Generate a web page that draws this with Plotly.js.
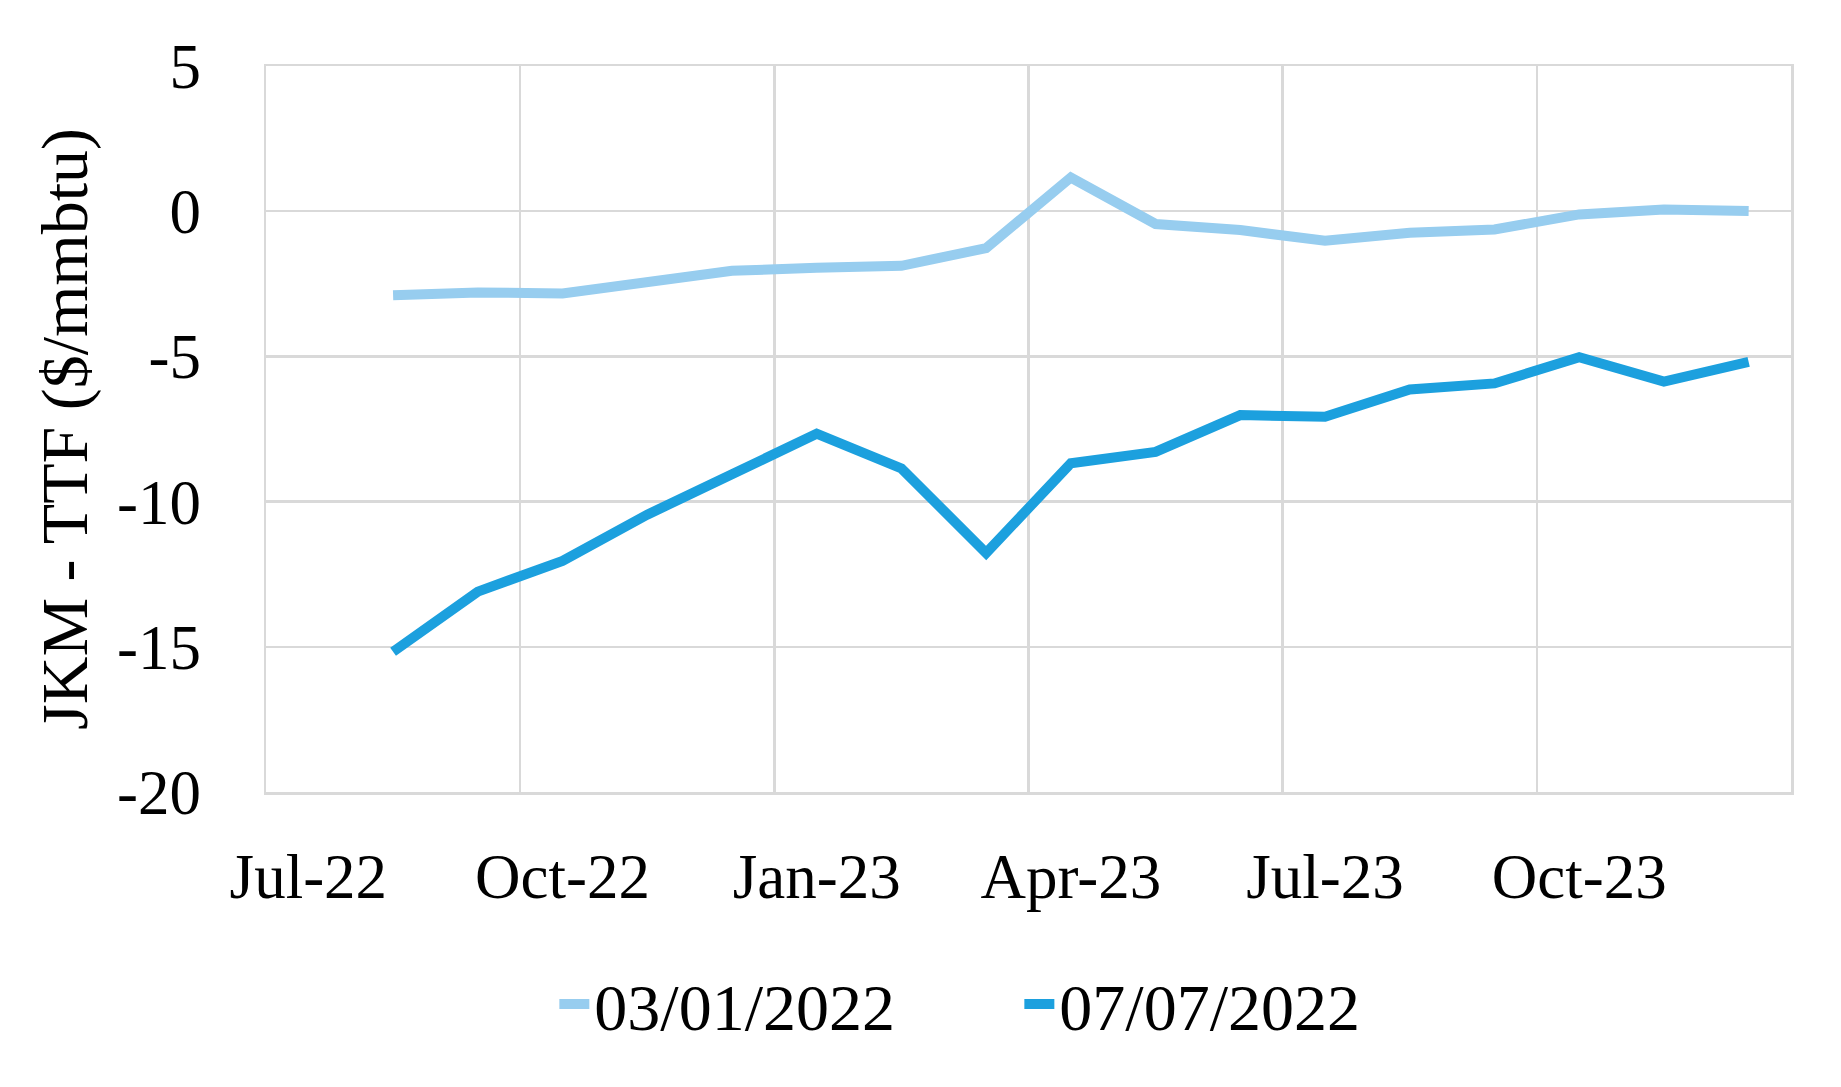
<!DOCTYPE html>
<html>
<head>
<meta charset="utf-8">
<script src="https://cdn.plot.ly/plotly-3.0.1.min.js"></script>
<style>html,body{margin:0;padding:0;background:#fff;}#chart{width:1841px;height:1087px;}</style>
</head>
<body>
<div id="chart"></div>
<script>
// Axis months (monthly slots shown on the date axis)
const axisMonths = ['Jul-22','Aug-22','Sep-22','Oct-22','Nov-22','Dec-22','Jan-23','Feb-23','Mar-23',
                    'Apr-23','May-23','Jun-23','Jul-23','Aug-23','Sep-23','Oct-23','Nov-23','Dec-23'];
const tickMonths = ['Jul-22','Oct-22','Jan-23','Apr-23','Jul-23','Oct-23'];
const yTickVals = [-20, -15, -10, -5, 0, 5];
const yTickText = ['-20', '-15', '-10', '-5', '0', '5'];
// Data months
const months = ['Aug-22','Sep-22','Oct-22','Nov-22','Dec-22','Jan-23','Feb-23','Mar-23','Apr-23',
                'May-23','Jun-23','Jul-23','Aug-23','Sep-23','Oct-23','Nov-23','Dec-23'];
const curve_03_01_2022 = [-2.89,-2.80,-2.83,-2.48,-2.05,-1.95,-1.88,-1.27,1.16,-0.44,-0.65,-1.02,-0.74,-0.63,-0.11,0.06,0.01];
const curve_07_07_2022 = [-15.17,-13.10,-12.04,-10.45,-9.06,-7.66,-8.86,-11.77,-8.68,-8.29,-7.02,-7.08,-6.14,-5.93,-5.03,-5.87,-5.19];
const seriesNames = ['03/01/2022','07/07/2022'];

const xIdx = months.map(m => axisMonths.indexOf(m));
const tickIdx = tickMonths.map(m => axisMonths.indexOf(m));
const boundaries = [];
for (let i = 0; i <= axisMonths.length; i += 3) boundaries.push(i - 0.5);

const FONT = 'Liberation Serif, Times New Roman, serif';
const GRID = '#D9D9D9';

const traces = [
  {x: xIdx, y: curve_03_01_2022, name: seriesNames[0], type: 'scatter', mode: 'lines',
   line: {color: '#97CDEF', width: 10}},
  {x: xIdx, y: curve_07_07_2022, name: seriesNames[1], type: 'scatter', mode: 'lines',
   line: {color: '#1CA0DE', width: 10}}
];

const layout = {
  width: 1841, height: 1087,
  paper_bgcolor: '#ffffff', plot_bgcolor: '#ffffff',
  margin: {l: 266, r: 50, t: 66, b: 295},
  font: {family: FONT, size: 63, color: '#000'},
  showlegend: true,
  legend: {orientation: 'h', x: 0.494, xanchor: 'center', y: -0.292, yanchor: 'middle',
           font: {family: FONT, size: 66, color: '#000'}, itemwidth: 30, traceorder: 'normal',
           entrywidth: 420, entrywidthmode: 'pixels'},
  xaxis: {
    range: [-0.5, axisMonths.length - 0.5],
    tickmode: 'array', tickvals: tickIdx, ticktext: tickMonths,
    showgrid: false, zeroline: false,
    showline: true, mirror: true, linecolor: GRID, linewidth: 2.5,
    ticks: '', ticklabelstandoff: 28,
    tickfont: {family: FONT, size: 63, color: '#000'},
    minor: {tickmode: 'array', tickvals: boundaries, showgrid: true, gridcolor: GRID, gridwidth: 2.5, ticks: ''},
    fixedrange: true
  },
  yaxis: {
    range: [-20, 5], tickmode: 'array', tickvals: yTickVals, ticktext: yTickText,
    showgrid: true, gridcolor: GRID, gridwidth: 2.5, zeroline: false,
    showline: true, mirror: true, linecolor: GRID, linewidth: 2.5,
    ticks: '', ticklabelstandoff: 50,
    tickfont: {family: FONT, size: 63, color: '#000'},
    title: {text: 'JKM - TTF ($/mmbtu)', font: {family: FONT, size: 66, color: '#000'}, standoff: 8},
    fixedrange: true
  }
};

Plotly.newPlot('chart', traces, layout, {staticPlot: true, displayModeBar: false});
</script>
</body>
</html>
